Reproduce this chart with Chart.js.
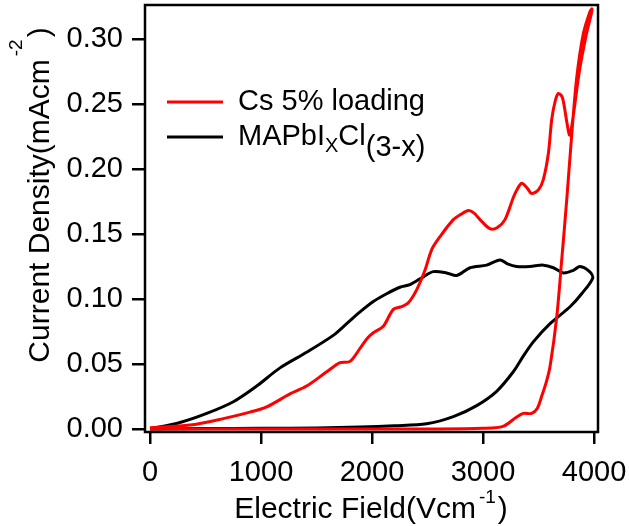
<!DOCTYPE html>
<html>
<head>
<meta charset="utf-8">
<script src="https://cdn.jsdelivr.net/npm/chart.js@4.4.0/dist/chart.umd.min.js"></script>
<style>
  html, body { margin: 0; padding: 0; background: #fff; }
  #wrap { width: 629px; height: 526px; }
</style>
</head>
<body>
<div id="wrap"><canvas id="jvChart" width="629" height="526"></canvas></div>
<script>
// Cs 5% loading sweep (forward up to ~3980 V/cm, then back)
const csField = [0, 500, 1000, 1500, 2000, 2500, 3000, 3180, 3300, 3363, 3438, 3490, 3528, 3570, 3604, 3664, 3709, 3754, 3799, 3844, 3904, 3964, 3982,
  3975, 3930, 3870, 3815, 3790, 3778, 3755, 3715, 3679, 3650, 3619, 3589, 3544, 3500, 3438, 3400, 3348, 3300, 3273, 3198, 3130, 3063, 2973, 2920, 2868,
  2800, 2733, 2613, 2538, 2477, 2402, 2327, 2267, 2192, 2102, 2012, 1960, 1892, 1802, 1712, 1592, 1411, 1261, 1051, 901, 660, 360, 0];
const csCurrent = [0, 0, 0, 0, 0, 0, 0.0005, 0.002, 0.009, 0.012, 0.012, 0.016, 0.025, 0.036, 0.048, 0.086, 0.13, 0.176, 0.226, 0.27, 0.304, 0.321, 0.323,
  0.319, 0.303, 0.276, 0.242, 0.228, 0.226, 0.236, 0.255, 0.258, 0.252, 0.238, 0.212, 0.192, 0.184, 0.181, 0.185, 0.189, 0.183, 0.178, 0.161, 0.155, 0.154, 0.161, 0.166, 0.168,
  0.165, 0.161, 0.148, 0.138, 0.122, 0.107, 0.097, 0.094, 0.092, 0.079, 0.074, 0.07, 0.062, 0.052, 0.051, 0.044, 0.033, 0.027, 0.017, 0.013, 0.008, 0.003, 0.001];

// MAPbIxCl(3-x) sweep
const mapField = [0, 500, 1000, 1500, 1892, 2200, 2492, 2733, 2943, 3123, 3273, 3363, 3453, 3604, 3784, 3889, 3988,
  3960, 3874, 3814, 3724, 3634, 3544, 3423, 3303, 3220, 3153, 3033, 2883, 2763, 2673, 2552, 2462, 2342, 2252, 2132, 2012, 1892, 1772, 1651, 1411, 1171, 961, 751, 511, 270, 0];
const mapCurrent = [0, 0.0003, 0.0005, 0.0008, 0.0015, 0.0025, 0.004, 0.0095, 0.018, 0.029, 0.044, 0.056, 0.067, 0.081, 0.094, 0.104, 0.116,
  0.121, 0.125, 0.122, 0.12, 0.124, 0.126, 0.125, 0.125, 0.127, 0.13, 0.126, 0.124, 0.118, 0.12, 0.121, 0.117, 0.111, 0.109, 0.104, 0.098, 0.09, 0.081, 0.072, 0.059, 0.047, 0.033, 0.021, 0.012, 0.005, 0];

const xTicks = [0, 1000, 2000, 3000, 4000];
const yTicks = [0, 0.05, 0.10, 0.15, 0.20, 0.25, 0.30];

const FONT = '"Liberation Sans", Arial, sans-serif';

function toPoints(xs, ys) {
  return xs.map((x, i) => ({ x: x, y: ys[i] }));
}

// draws a run of text pieces (normal / sub / superscript) side by side
function drawRich(ctx, parts, x, y) {
  let total = 0;
  parts.forEach(p => {
    ctx.font = p.size + 'px ' + FONT;
    p.w = ctx.measureText(p.text).width;
    total += p.w + (p.gap || 0);
  });
  let cx = x - total / 2;
  parts.forEach(p => {
    cx += (p.gap || 0);
    ctx.font = p.size + 'px ' + FONT;
    ctx.fillText(p.text, cx, y + (p.dy || 0));
    cx += p.w;
  });
}

const decorPlugin = {
  id: 'decor',
  afterDatasetsDraw(chart) {
    const { ctx, chartArea } = chart;
    ctx.save();
    // frame
    ctx.strokeStyle = '#000';
    ctx.lineWidth = 2.5;
    ctx.strokeRect(chartArea.left, chartArea.top, chartArea.right - chartArea.left, chartArea.bottom - chartArea.top);

    ctx.fillStyle = '#000';
    ctx.textAlign = 'left';
    ctx.textBaseline = 'alphabetic';

    // x axis title
    drawRich(ctx, [
      { text: 'Electric Field(Vcm', size: 30 },
      { text: '-1', size: 19, dy: -15, gap: 3 },
      { text: ')', size: 30, gap: 2 }
    ], 371, 518);

    // y axis title
    ctx.save();
    ctx.translate(49, 195);
    ctx.rotate(-Math.PI / 2);
    drawRich(ctx, [
      { text: 'Current Density(mAcm', size: 30 },
      { text: '-2', size: 19, dy: -27, gap: 3 },
      { text: ')', size: 30, gap: 2 }
    ], 0, 0);
    ctx.restore();

    // legend
    ctx.lineWidth = 3;
    ctx.strokeStyle = '#ff0000';
    ctx.beginPath(); ctx.moveTo(167, 102); ctx.lineTo(223, 102); ctx.stroke();
    ctx.strokeStyle = '#000';
    ctx.beginPath(); ctx.moveTo(167, 137); ctx.lineTo(223, 137); ctx.stroke();

    ctx.font = '29px ' + FONT;
    ctx.fillText('Cs 5% loading', 238, 110);
    let lx = 238;
    const pieces = [
      { text: 'MAPbI', size: 29, base: 145 },
      { text: 'X', size: 20, base: 152 },
      { text: 'Cl', size: 29, base: 145 },
      { text: '(3-x)', size: 29, base: 156 }
    ];
    pieces.forEach(p => {
      ctx.font = p.size + 'px ' + FONT;
      ctx.fillText(p.text, lx, p.base);
      lx += ctx.measureText(p.text).width;
    });
    ctx.restore();
  }
};

new Chart(document.getElementById('jvChart'), {
  type: 'scatter',
  data: {
    datasets: [
      {
        label: 'Cs 5% loading',
        data: toPoints(csField, csCurrent),
        showLine: true,
        borderColor: '#ff0000',
        borderWidth: 3,
        pointRadius: 0,
        tension: 0.3,
        fill: false
      },
      {
        label: 'MAPbIxCl(3-x)',
        data: toPoints(mapField, mapCurrent),
        showLine: true,
        borderColor: '#000000',
        borderWidth: 3,
        pointRadius: 0,
        tension: 0.3,
        fill: false
      }
    ]
  },
  options: {
    responsive: false,
    animation: false,
    devicePixelRatio: 1,
    layout: { padding: { left: 0, top: 5, right: 31, bottom: 0 } },
    plugins: {
      legend: { display: false },
      tooltip: { enabled: false }
    },
    scales: {
      x: {
        type: 'linear',
        min: -45,
        max: 4036,
        afterFit: s => { s.height = 94; s.paddingLeft = 0; s.paddingRight = 0; },
        afterBuildTicks: s => { s.ticks = xTicks.map(v => ({ value: v })); },
        border: { display: false },
        grid: { drawOnChartArea: false, drawTicks: true, tickLength: 12, color: '#000', lineWidth: 2.5 },
        ticks: { color: '#000', font: { family: FONT, size: 29 }, padding: 12, maxRotation: 0, callback: v => String(v) }
      },
      y: {
        type: 'linear',
        min: -0.0023,
        max: 0.326,
        afterFit: s => { s.width = 145; s.paddingTop = 0; s.paddingBottom = 0; },
        afterBuildTicks: s => { s.ticks = yTicks.map(v => ({ value: v })); },
        border: { display: false },
        grid: { drawOnChartArea: false, drawTicks: true, tickLength: 13, color: '#000', lineWidth: 2.5 },
        ticks: { color: '#000', font: { family: FONT, size: 29 }, padding: 9, callback: v => v.toFixed(2) }
      }
    }
  },
  plugins: [decorPlugin]
});
</script>
</body>
</html>
